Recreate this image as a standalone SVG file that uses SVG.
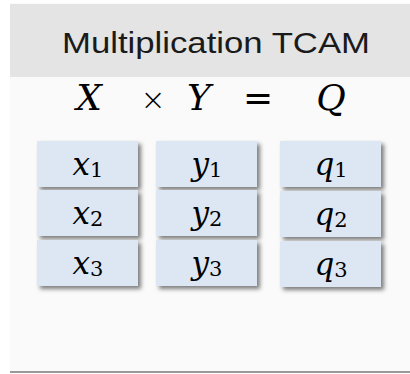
<svg xmlns="http://www.w3.org/2000/svg" width="410" height="374" viewBox="0 0 410 374">
<defs>
<filter id="sh" x="-20%" y="-20%" width="150%" height="160%">
<feDropShadow dx="3" dy="3" stdDeviation="2" flood-color="#000" flood-opacity="0.5"/>
</filter>
<filter id="psh" x="-5%" y="-5%" width="110%" height="110%">
<feDropShadow dx="0" dy="2" stdDeviation="0.4" flood-color="#000" flood-opacity="0.4"/>
</filter>
</defs>
<style>
.cell{fill:#dde7f3;filter:url(#sh)}
.m{font-family:"DejaVu Serif","Liberation Serif",serif;font-style:italic;fill:#000;text-anchor:middle}
.op{font-family:"DejaVu Sans","Liberation Serif",serif;fill:#000;text-anchor:middle}
.sub{font-style:normal;font-size:21px}
.title{font-family:"Liberation Sans","Open Sans",sans-serif;font-size:30px;fill:#1a1a1a;text-anchor:middle}
</style>
<rect width="410" height="374" fill="#ffffff"/>
<g id="panel">
<rect x="10" y="3" width="410" height="368" fill="#fafafa" filter="url(#psh)"/>
<rect x="10" y="4" width="410" height="73" fill="#e4e4e4"/>
<text class="title" x="216" y="53" textLength="308" lengthAdjust="spacingAndGlyphs">Multiplication TCAM</text>
</g>
<g id="equation">
<text class="m" x="89" y="110" font-size="36">X</text>
<text class="op" x="153" y="110" font-size="30" font-weight="300">×</text>
<text class="m" x="199" y="110" font-size="36">Y</text>
<text class="op" x="258" y="110" font-size="36">=</text>
<text class="m" x="331" y="110" font-size="36">Q</text>
</g>
<g id="x1"><rect class="cell" x="37" y="141" width="101" height="46"/><text class="m" x="88" y="175" font-size="31">x<tspan class="sub" dy="2">1</tspan></text></g>
<g id="y1"><rect class="cell" x="156" y="141" width="101" height="46"/><text class="m" x="207" y="175" font-size="31">y<tspan class="sub" dy="2">1</tspan></text></g>
<g id="q1"><rect class="cell" x="280" y="141" width="101" height="46"/><text class="m" x="331" y="175" font-size="31">q<tspan class="sub" dy="2">1</tspan></text></g>
<g id="x2"><rect class="cell" x="37" y="190" width="101" height="46"/><text class="m" x="88" y="224" font-size="31">x<tspan class="sub" dy="2">2</tspan></text></g>
<g id="y2"><rect class="cell" x="156" y="190" width="101" height="46"/><text class="m" x="207" y="224" font-size="31">y<tspan class="sub" dy="2">2</tspan></text></g>
<g id="q2"><rect class="cell" x="280" y="191" width="101" height="46"/><text class="m" x="331" y="225" font-size="31">q<tspan class="sub" dy="2">2</tspan></text></g>
<g id="x3"><rect class="cell" x="37" y="240" width="101" height="46"/><text class="m" x="88" y="274" font-size="31">x<tspan class="sub" dy="2">3</tspan></text></g>
<g id="y3"><rect class="cell" x="156" y="240" width="101" height="46"/><text class="m" x="207" y="274" font-size="31">y<tspan class="sub" dy="2">3</tspan></text></g>
<g id="q3"><rect class="cell" x="280" y="241" width="101" height="46"/><text class="m" x="331" y="275" font-size="31">q<tspan class="sub" dy="2">3</tspan></text></g>
</svg>
